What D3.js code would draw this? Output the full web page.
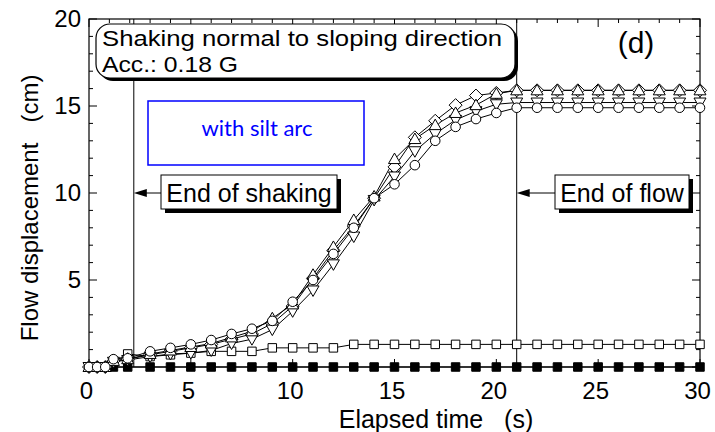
<!DOCTYPE html>
<html>
<head>
<meta charset="utf-8">
<script src="https://cdn.jsdelivr.net/npm/d3@7"></script>
<style>
  body { margin: 0; background: #fff; }
  svg { font-family: "Liberation Sans", Arial, sans-serif; }
  .pre { white-space: pre; }
</style>
</head>
<body>
<svg id="chart"></svg>
<script>
var width = 715, height = 432;

// elapsed time (s)
var times = [0, 0.4, 0.8, 1.2, 1.9, 3, 4, 5, 6, 7, 8, 9, 10, 11, 12, 13, 14, 15, 16, 17, 18, 19, 20, 21, 22, 23, 24, 25, 26, 27, 28, 29, 30];

// flow displacement (cm) per marker type
var circleVals  = [0, 0, 0, 0.45, 0.5, 0.9, 1.1, 1.3, 1.55, 1.9, 2.2, 2.65, 3.75, 5.0, 6.5, 8.0, 9.7, 10.5, 11.6, 13.0, 13.8, 14.25, 14.6, 14.9, 14.9, 14.9, 14.9, 14.9, 14.9, 14.9, 14.9, 14.9, 14.9];
var upTriVals   = [0, 0, 0, 0.35, 0.45, 0.75, 0.95, 1.15, 1.35, 1.7, 2.05, 2.8, 3.6, 5.3, 6.9, 8.45, 9.8, 11.95, 13.1, 13.9, 14.6, 15.05, 15.7, 15.9, 15.9, 15.9, 15.9, 15.9, 15.9, 15.9, 15.9, 15.9, 15.9];
var downTriVals = [0, 0, 0, 0.3, 0.4, 0.6, 0.75, 0.8, 0.95, 1.35, 1.6, 2.15, 3.2, 4.4, 5.9, 7.5, 9.6, 10.95, 12.4, 13.4, 14.2, 14.7, 15.1, 15.2, 15.2, 15.2, 15.2, 15.2, 15.2, 15.2, 15.2, 15.2, 15.2];
var diamondVals = [0, 0, 0, 0.35, 0.45, 0.7, 0.9, 1.1, 1.3, 1.6, 1.9, 2.5, 3.5, 5.1, 6.7, 8.1, 9.7, 11.5, 13.2, 14.15, 15.05, 15.6, 15.75, 15.9, 15.9, 15.9, 15.9, 15.9, 15.9, 15.9, 15.9, 15.9, 15.9];
var openSqVals  = [0, 0, 0, 0.3, 0.75, 0.6, 0.7, 0.8, 0.9, 0.9, 0.9, 1.1, 1.1, 1.1, 1.1, 1.3, 1.3, 1.3, 1.3, 1.3, 1.3, 1.3, 1.3, 1.3, 1.3, 1.3, 1.3, 1.3, 1.3, 1.3, 1.3, 1.3, 1.3];
var filledSqVals = [0, 0, 0, 0, 0, 0, 0, 0, 0, 0, 0, 0, 0, 0, 0, 0, 0, 0, 0, 0, 0, 0, 0, 0, 0, 0, 0, 0, 0, 0, 0, 0, 0];

var xTicks = [0, 5, 10, 15, 20, 25, 30];
var yTickLabels = [5, 10, 15, 20];

var endShaking = 2.2, endFlow = 21;
var titleLines = ["Shaking normal to sloping direction", "Acc.: 0.18 G"];

var x = d3.scaleLinear().domain([0, 30]).range([89, 700]);
var y = d3.scaleLinear().domain([0, 20]).range([367, 19]);

var svg = d3.select("#chart")
    .attr("width", width)
    .attr("height", height);

// minor + major ticks on all four sides (inward)
var minorX = d3.range(0, 31, 1), minorY = d3.range(0, 21, 1);
var tickG = svg.append("g").attr("stroke", "#000").attr("stroke-width", 1);
minorX.forEach(function(t) {
    var len = t % 5 === 0 ? 8 : 4;
    tickG.append("line").attr("x1", x(t)).attr("x2", x(t)).attr("y1", y(0)).attr("y2", y(0) - len);
    tickG.append("line").attr("x1", x(t)).attr("x2", x(t)).attr("y1", y(20)).attr("y2", y(20) + len);
});
minorY.forEach(function(v) {
    var len = v % 5 === 0 ? 8 : 4;
    tickG.append("line").attr("x1", x(0)).attr("x2", x(0) + len).attr("y1", y(v)).attr("y2", y(v));
    tickG.append("line").attr("x1", x(30)).attr("x2", x(30) - len).attr("y1", y(v)).attr("y2", y(v));
});

svg.append("g")
    .attr("transform", "translate(-3," + y(0) + ")")
    .call(d3.axisBottom(x).tickValues(xTicks).tickSize(0).tickPadding(15))
    .call(function(g) { g.select(".domain").remove(); })
    .selectAll("text")
    .attr("fill", "#000")
    .style("font-size", "24px")
    .style("font-family", "'Liberation Sans', Arial, sans-serif");

svg.append("g")
    .attr("transform", "translate(" + x(0) + ",0)")
    .call(d3.axisLeft(y).tickValues(yTickLabels).tickSize(0).tickPadding(8))
    .call(function(g) { g.select(".domain").remove(); })
    .selectAll("text")
    .attr("fill", "#000")
    .style("font-size", "24px")
    .style("font-family", "'Liberation Sans', Arial, sans-serif");

// frame
svg.append("rect")
    .attr("x", x(0)).attr("y", y(20))
    .attr("width", x(30) - x(0)).attr("height", y(0) - y(20))
    .attr("fill", "none").attr("stroke", "#000").attr("stroke-width", 1.2);

// axis titles
svg.append("text")
    .attr("class", "pre")
    .attr("x", 436).attr("y", 428)
    .attr("text-anchor", "middle")
    .style("font-size", "25px")
    .text("Elapsed time   (s)");

svg.append("text")
    .attr("class", "pre")
    .attr("transform", "translate(38,208) rotate(-90)")
    .attr("text-anchor", "middle")
    .style("font-size", "24px")
    .text("Flow displacement   (cm)");

// event lines
[endShaking, endFlow].forEach(function(t) {
    svg.append("line")
        .attr("x1", x(t)).attr("x2", x(t))
        .attr("y1", y(20)).attr("y2", y(0))
        .attr("stroke", "#000").attr("stroke-width", 1);
});

// series
var line = d3.line()
    .x(function(d) { return x(d[0]); })
    .y(function(d) { return y(d[1]); });

function pairs(vals) {
    return times.map(function(t, i) { return [t, vals[i]]; });
}

var series = [
    { vals: filledSqVals, shape: d3.symbolSquare, size: 72, fill: "#000" },
    { vals: openSqVals, shape: d3.symbolSquare, size: 72, fill: "#fff" },
    { vals: diamondVals, shape: "diamond", size: 0, fill: "#fff" },
    { vals: downTriVals, shape: "down", size: 0, fill: "#fff" },
    { vals: upTriVals, shape: "up", size: 0, fill: "#fff" },
    { vals: circleVals, shape: d3.symbolCircle, size: 72, fill: "#fff" }
];

function markerPath(s) {
    if (s.shape === "diamond") return "M0,-6.5L6.5,0L0,6.5L-6.5,0Z";
    if (s.shape === "up") return "M0,-6L6,4.5L-6,4.5Z";
    if (s.shape === "down") return "M0,6L6,-4.5L-6,-4.5Z";
    return d3.symbol().type(s.shape).size(s.size)();
}

series.forEach(function(s) {
    var data = pairs(s.vals);
    svg.append("path")
        .datum(data)
        .attr("d", line)
        .attr("fill", "none")
        .attr("stroke", "#000")
        .attr("stroke-width", 1);
});

series.forEach(function(s) {
    var data = pairs(s.vals);
    svg.append("g").selectAll("path")
        .data(data)
        .join("path")
        .attr("transform", function(d) { return "translate(" + x(d[0]) + "," + y(d[1]) + ")"; })
        .attr("d", markerPath(s))
        .attr("fill", s.fill)
        .attr("stroke", "#000")
        .attr("stroke-width", 1);
});

// title box
svg.append("rect")
    .attr("x", 99).attr("y", 27).attr("width", 419).attr("height", 54)
    .attr("rx", 14).attr("fill", "#000");
svg.append("rect")
    .attr("x", 96).attr("y", 24).attr("width", 419).attr("height", 54)
    .attr("rx", 14).attr("fill", "#fff").attr("stroke", "#000").attr("stroke-width", 1.2);
var titleWidths = [400, 136];
titleLines.forEach(function(t, i) {
    svg.append("text")
        .attr("x", 102).attr("y", 46 + i * 26)
        .attr("textLength", titleWidths[i])
        .attr("lengthAdjust", "spacingAndGlyphs")
        .style("font-size", "22px")
        .text(t);
});

svg.append("text")
    .attr("x", 636).attr("y", 53)
    .attr("text-anchor", "middle")
    .style("font-size", "30px")
    .text("(d)");

// blue note box
svg.append("rect")
    .attr("x", 148).attr("y", 101).attr("width", 216).attr("height", 64)
    .attr("fill", "none").attr("stroke", "#0000ff").attr("stroke-width", 1.5);
svg.append("text")
    .attr("x", 257).attr("y", 136)
    .attr("text-anchor", "middle")
    .attr("fill", "#0000ff")
    .style("font-family", "Lato, 'Open Sans', sans-serif")
    .style("font-size", "22px")
    .text("with silt arc");

// annotation boxes with arrows
function annotate(t, left, w, label) {
    var cy = y(10);
    svg.append("line")
        .attr("x1", left).attr("x2", x(t) + 10)
        .attr("y1", cy).attr("y2", cy)
        .attr("stroke", "#000").attr("stroke-width", 1);
    svg.append("path")
        .attr("d", "M" + x(t) + "," + cy + "L" + (x(t) + 13) + "," + (cy - 4) + "L" + (x(t) + 13) + "," + (cy + 4) + "Z")
        .attr("fill", "#000");
    svg.append("rect")
        .attr("x", left + 4).attr("y", cy - 14).attr("width", w).attr("height", 34)
        .attr("fill", "#000");
    svg.append("rect")
        .attr("x", left).attr("y", cy - 18).attr("width", w).attr("height", 34)
        .attr("fill", "#fff").attr("stroke", "#000").attr("stroke-width", 1);
    svg.append("text")
        .attr("x", left + w / 2).attr("y", cy + 9)
        .attr("text-anchor", "middle")
        .style("font-size", "25px")
        .text(label);
}

annotate(endShaking, 161, 176, "End of shaking");
annotate(endFlow, 555, 134, "End of flow");
</script>
</body>
</html>
